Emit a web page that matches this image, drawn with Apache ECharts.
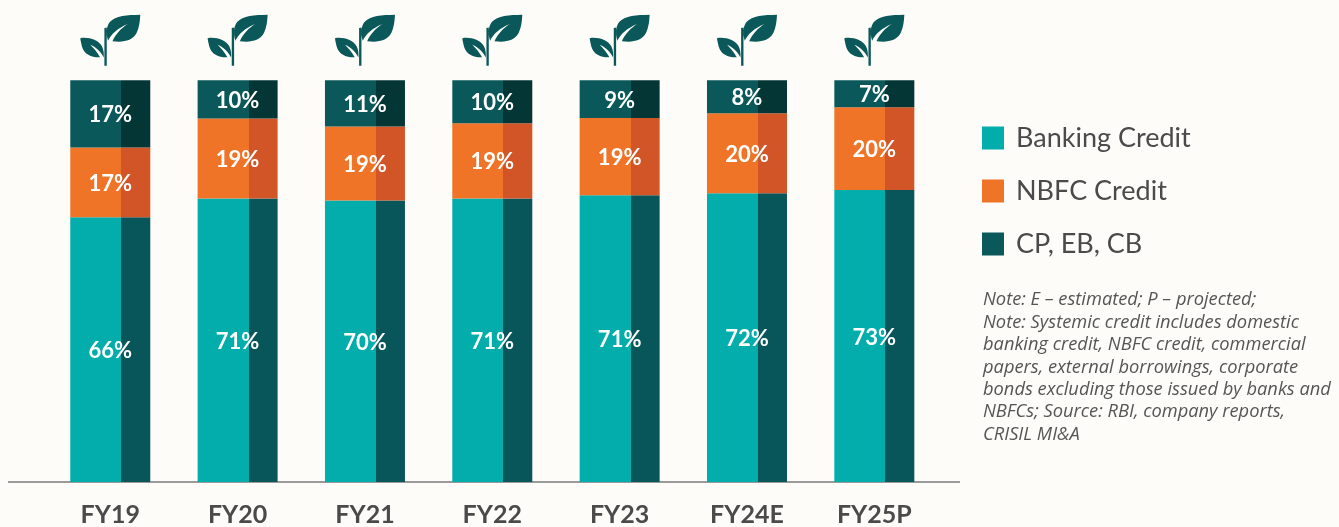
<!DOCTYPE html>
<html>
<head>
<meta charset="utf-8">
<style>html,body{margin:0;padding:0;background:#fdfcf9;}#c{width:1339px;height:527px;}</style>
<script src="https://cdn.jsdelivr.net/npm/echarts@6/dist/echarts.min.js"></script>
</head>
<body>
<div id="c"></div>
<script>
const categories = ['FY19','FY20','FY21','FY22','FY23','FY24E','FY25P'];
const bankingCredit = [65.9,70.6,70.1,70.6,71.4,71.9,72.7];
const nbfcCredit = [17.4,19.9,18.4,18.7,19.2,19.9,20.6];
const cpEbCb = [16.7,9.5,11.5,10.7,9.4,8.2,6.7];
const bankingLabels = ['66%','71%','70%','71%','71%','72%','73%'];
const nbfcLabels = ['17%','19%','19%','19%','19%','20%','20%'];
const cpLabels = ['17%','10%','11%','10%','9%','8%','7%'];
const sproutHeights = [110,110,110,110,110,110,110];
const noteLines = [
  'Note: E – estimated; P – projected;',
  'Note: Systemic credit includes domestic',
  'banking credit, NBFC credit, commercial',
  'papers, external borrowings, corporate',
  'bonds excluding those issued by banks and',
  'NBFCs; Source: RBI, company reports,',
  'CRISIL MI&A'
];
const sproutPath = 'path://M179 0C140 1 105 2 88 22C78 35 76 55 83 78C92 58 112 40 142 28C122 40 106 58 96 79C125 83 155 80 168 55C176 38 178 20 179 0Z M0 70C25 66 55 75 65 95C70 105 71 118 70 128C62 112 48 98 30 90C40 100 50 112 59 127C35 128 12 120 5 95C3 85 1 78 0 70Z M72 40L79 38L79 152L72 152Z';
const FONT = 'Lato';
const split = 51/80;
function shade(a,b){
  return new echarts.graphic.LinearGradient(0,0,1,0,[
    {offset:0,color:a},{offset:split,color:a},{offset:split,color:b},{offset:1,color:b}
  ]);
}
function barSeries(name,data,labels,a,b){
  return {
    name:name,type:'bar',stack:'total',barWidth:80,data:data,silent:true,
    itemStyle:{color:shade(a,b)},
    label:{show:true,position:'inside',offset:[0,1.5],color:'#ffffff',fontFamily:FONT,fontSize:22,fontWeight:'bold',
      formatter:function(p){return labels[p.dataIndex];}}
  };
}
const chart = echarts.init(document.getElementById('c'),null,{renderer:'canvas'});
chart.setOption({
  animation:false,
  backgroundColor:'#fdfcf9',
  grid:{left:46.6,right:401,top:0,bottom:45},
  xAxis:{type:'category',data:categories,axisLine:{show:false},axisTick:{show:false},
    axisLabel:{color:'#4a4a4a',fontFamily:FONT,fontSize:25,fontWeight:'bold',margin:20,interval:0}},
  yAxis:{type:'value',min:0,max:120,show:false,splitLine:{show:false}},
  legend:{orient:'vertical',left:982,top:124.5,padding:0,itemWidth:22,itemHeight:23,itemGap:26,icon:'rect',selectedMode:false,
    textStyle:{color:'#4a4a4a',fontFamily:FONT,fontSize:27,lineHeight:23,padding:[0,0,0,7]},
    data:[
      {name:'Banking Credit',itemStyle:{color:'#02adac'}},
      {name:'NBFC Credit',itemStyle:{color:'#ef7427'}},
      {name:'CP, EB, CB',itemStyle:{color:'#0b585a'}}
    ]},
  graphic:[
    {type:'line',silent:true,shape:{x1:8,y1:482,x2:960,y2:482},style:{stroke:'#7a7a7a',lineWidth:1.5}},
    {type:'text',silent:true,left:983,top:289,style:{text:noteLines.join('\n'),fill:'#555555',
      font:'italic 18.3px "Open Sans"',lineHeight:22.4}}
  ],
  series:[
    barSeries('Banking Credit',bankingCredit,bankingLabels,'#02adac','#09565a'),
    barSeries('NBFC Credit',nbfcCredit,nbfcLabels,'#ef7427','#d15526'),
    barSeries('CP, EB, CB',cpEbCb,cpLabels,'#0b585a','#033635'),
    {name:'Sprout',type:'scatter',data:sproutHeights,symbol:sproutPath,symbolSize:[60,51],silent:true,
      itemStyle:{color:'#0b585a',opacity:1}}
  ]
});
</script>
</body>
</html>
